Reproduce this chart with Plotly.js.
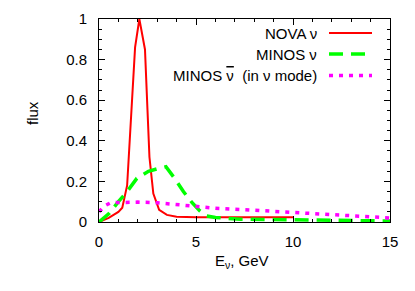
<!DOCTYPE html>
<html><head><meta charset="utf-8">
<script src="https://cdn.plot.ly/plotly-3.0.1.min.js"></script>
<style>html,body{margin:0;padding:0;background:#fff}#c{width:415px;height:291px}</style>
</head><body><div id="c"></div>
<script>
const novaX = [0, 0.5, 1.0, 1.2, 1.45, 1.65, 1.86, 2.08, 2.37, 2.5, 2.6, 2.8, 3.1, 3.5, 4, 5, 6, 8, 10];
const novaY = [0, 0.02, 0.05, 0.07, 0.18, 0.5, 0.86, 1.0, 0.85, 0.55, 0.32, 0.14, 0.06, 0.035, 0.026, 0.024, 0.023, 0.023, 0.023];
const minosX = [0, 0.5, 1.0, 1.45, 1.95, 2.55, 3.0, 3.45, 3.9, 4.35, 4.8, 5.2, 5.55, 6.0, 7.3, 10, 12, 15];
const minosY = [0, 0.04, 0.1, 0.15, 0.215, 0.25, 0.262, 0.272, 0.215, 0.15, 0.095, 0.055, 0.03, 0.022, 0.014, 0.01, 0.008, 0.005];
const barX = [0, 0.3, 0.6, 1, 2, 3, 4, 5, 6, 8, 10, 12, 15];
const barY = [0.05, 0.08, 0.095, 0.097, 0.098, 0.095, 0.085, 0.075, 0.068, 0.058, 0.048, 0.037, 0.02];
const names = ['NOVA \u03bd', 'MINOS \u03bd', 'MINOS <span style="text-decoration:overline">\u03bd</span>  (in \u03bd mode)'];
const colors = ['#ff0000', '#00ff00', '#ff00ff'];
const dashes = ['solid', '14px,8px', '4px,6px'];
const widths = [2, 3.5, 3.5];
const xs = [novaX, minosX, barX], ys = [novaY, minosY, barY];

const font = {family: 'Liberation Sans, Arial, sans-serif', size: 15, color: '#000'};
const traces = xs.map((x, i) => ({
  x: x, y: ys[i], type: 'scatter', mode: 'lines', name: names[i],
  line: {color: colors[i], width: widths[i], dash: dashes[i]}, showlegend: false
}));

const L = 99, T = 19, W = 291, H = 203;
const annotations = [], shapes = [];
const legY = [33, 54, 75.5];
names.forEach((n, i) => {
  annotations.push({xref: 'paper', yref: 'paper', x: (319 - L) / W, y: 1 - (legY[i] - T) / H,
    xanchor: 'right', yanchor: 'middle', text: n, showarrow: false, font: font});
  shapes.push({type: 'line', xref: 'paper', yref: 'paper',
    x0: (329 - L) / W, x1: (372 - L) / W, y0: 1 - (legY[i] - T) / H, y1: 1 - (legY[i] - T) / H,
    line: {color: colors[i], width: widths[i], dash: dashes[i]}});
});
annotations.push({xref: 'paper', yref: 'paper', x: (242 - L) / W, y: 1 - (261 - T) / H,
  xanchor: 'center', yanchor: 'middle', text: 'E<sub>\u03bd</sub>, GeV', showarrow: false, font: font});
annotations.push({xref: 'paper', yref: 'paper', x: (32 - L) / W, y: 1 - (113 - T) / H,
  xanchor: 'center', yanchor: 'middle', text: 'flux', textangle: -90, showarrow: false, font: font});

const axisCommon = {showgrid: false, zeroline: false, showline: true, linecolor: '#000', linewidth: 1,
  mirror: 'allticks', ticks: 'inside', ticklen: 6, tickcolor: '#000', tickfont: font};
const layout = {
  width: 415, height: 291, margin: {l: L, r: 415 - L - W, t: T, b: 291 - T - H},
  paper_bgcolor: '#fff', plot_bgcolor: '#fff', font: font,
  xaxis: Object.assign({}, axisCommon, {range: [0, 15], dtick: 5, tick0: 0, ticklabelstandoff: 6,
    minor: {dtick: 1, ticks: 'inside', ticklen: 3, tickcolor: '#000'}}),
  yaxis: Object.assign({}, axisCommon, {range: [0, 1], dtick: 0.2, tick0: 0, ticklabelstandoff: 8,
    minor: {dtick: 0.05, ticks: 'inside', ticklen: 3, tickcolor: '#000'}}),
  annotations: annotations, shapes: shapes
};
Plotly.newPlot('c', traces, layout, {displayModeBar: false, staticPlot: true});
</script></body></html>
